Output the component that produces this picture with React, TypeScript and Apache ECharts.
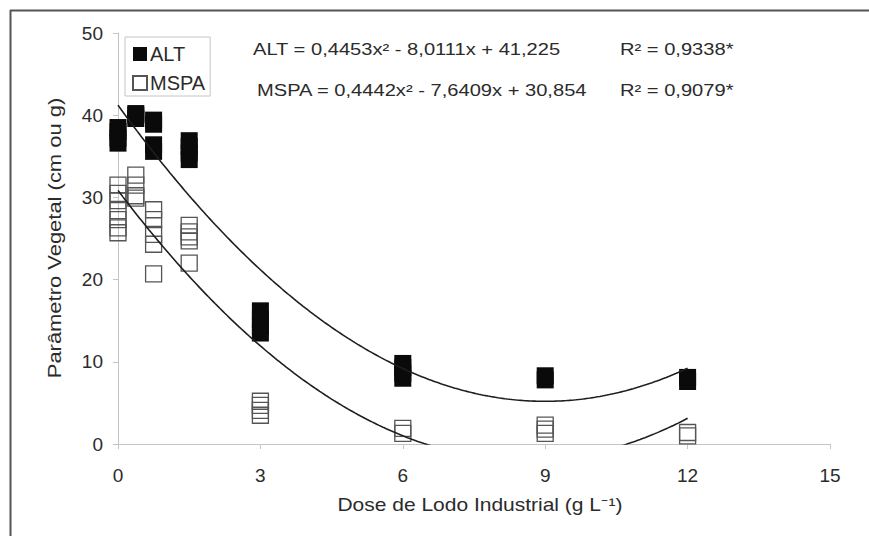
import React, { useEffect, useRef } from "react";
import * as echarts from "echarts";

// Dose (g L-1) and measured values, one entry per replicate
const altDose = [0, 0, 0, 0, 0.375, 0.375, 0.375, 0.75, 0.75, 0.75, 0.75, 1.5, 1.5, 1.5, 1.5, 3, 3, 3, 3, 6, 6, 6, 6, 9, 9, 12, 12];
const altValue = [36.6, 37.2, 38.0, 38.5, 39.6, 40.0, 40.2, 35.6, 36.4, 38.9, 39.4, 34.6, 35.4, 36.2, 36.9, 13.5, 14.3, 15.2, 16.2, 8.0, 8.6, 9.3, 9.8, 7.8, 8.3, 7.6, 8.1];

const mspaDose = [0, 0, 0, 0, 0, 0, 0, 0.375, 0.375, 0.375, 0.375, 0.75, 0.75, 0.75, 0.75, 0.75, 1.5, 1.5, 1.5, 1.5, 1.5, 3, 3, 3, 3, 6, 6, 9, 9, 9, 12, 12];
const mspaValue = [31.5, 30.5, 29.6, 28.4, 27.3, 26.3, 25.7, 32.7, 31.5, 30.2, 29.9, 28.5, 27.3, 25.5, 24.3, 20.7, 26.6, 25.8, 25.2, 24.7, 22.0, 3.5, 4.1, 4.7, 5.2, 1.3, 1.9, 1.3, 1.8, 2.3, 1.0, 1.4];

// Regression coefficients printed on the chart (c0 + c1 x + c2 x^2)
const altCoef = [41.225, -8.0111, 0.4453];
const mspaCoef = [30.854, -7.6409, 0.4442];
const trendDomain = [0, 12];

const seriesNames = ["ALT", "MSPA"];
const equationTexts = [
  "ALT = 0,4453x² - 8,0111x + 41,225",
  "MSPA = 0,4442x² - 7,6409x + 30,854",
];
const r2Texts = ["R² = 0,9338*", "R² = 0,9079*"];
const xTitle = "Dose de Lodo Industrial (g L⁻¹)";
const yTitle = "Parâmetro Vegetal (cm ou g)";

const FONT = "'Liberation Sans', Arial, Helvetica, sans-serif";
const TXT = "#2b2b2b";
const AX = "#c4c4c4";

function trendPoints(coef: number[]) {
  const pts: number[][] = [];
  const steps = 240;
  for (let i = 0; i <= steps; i++) {
    const x = trendDomain[0] + ((trendDomain[1] - trendDomain[0]) * i) / steps;
    pts.push([x, coef[0] + coef[1] * x + coef[2] * x * x]);
  }
  return pts;
}

function txt(text: string, x: number, y: number, size: number, sx: number, align = "left", rotation = 0) {
  return {
    type: "text",
    x,
    y,
    rotation,
    scaleX: sx,
    silent: true,
    style: {
      text,
      fontSize: size,
      fontFamily: FONT,
      fill: TXT,
      align,
      verticalAlign: "middle",
      textAlign: align,
      textVerticalAlign: "middle",
    },
  };
}

export default function App() {
  const ref = useRef<HTMLDivElement>(null);
  useEffect(() => {
    if (!ref.current) return;
    const chart = echarts.init(ref.current, undefined, { renderer: "svg" });
    chart.setOption({
      animation: false,
      backgroundColor: "#ffffff",
      grid: { left: 118, right: 39, top: 33, bottom: 92, containLabel: false },
      legend: {
        orient: "vertical",
        left: 125,
        top: 37,
        data: seriesNames.map((n) => ({ name: n, icon: "rect" })),
        itemWidth: 14,
        itemHeight: 14,
        itemGap: 9,
        padding: [7, 5, 3, 7],
        borderColor: "#c4c4c4",
        borderWidth: 1,
        selectedMode: false,
        textStyle: { fontSize: 20, fontFamily: FONT, color: TXT, padding: [0, 0, 0, -2] },
      },
      xAxis: {
        type: "value",
        min: 0,
        max: 15,
        interval: 3,
        axisLine: { show: true, onZero: false, lineStyle: { color: AX, width: 1 } },
        axisTick: { show: true, length: 5, lineStyle: { color: AX } },
        axisLabel: { fontSize: 19, fontFamily: FONT, color: TXT, margin: 22 },
        splitLine: { show: false },
      },
      yAxis: {
        type: "value",
        min: 0,
        max: 50,
        interval: 10,
        axisLine: { show: true, lineStyle: { color: AX, width: 1 } },
        axisTick: { show: true, length: 5, lineStyle: { color: AX } },
        axisLabel: { fontSize: 19, fontFamily: FONT, color: TXT, margin: 15 },
        splitLine: { show: false },
      },
      series: [
        {
          name: "ALT",
          type: "scatter",
          symbol: "rect",
          symbolSize: 17,
          itemStyle: { color: "#0a0a0a", borderColor: "#0a0a0a", borderWidth: 0, opacity: 1 },
          data: altDose.map((d, i) => [d, altValue[i]]),
          z: 3,
        },
        {
          name: "MSPA",
          type: "scatter",
          symbol: "rect",
          symbolSize: 16,
          itemStyle: { color: "rgba(255,255,255,0)", borderColor: "#555555", borderWidth: 1.3, opacity: 1 },
          data: mspaDose.map((d, i) => [d, mspaValue[i]]),
          z: 3,
        },
        {
          name: "ALT trend",
          type: "line",
          showSymbol: false,
          symbol: "none",
          clip: true,
          silent: true,
          lineStyle: { color: "#1e1e1e", width: 1.6 },
          data: trendPoints(altCoef),
          z: 4,
        },
        {
          name: "MSPA trend",
          type: "line",
          showSymbol: false,
          symbol: "none",
          clip: true,
          silent: true,
          lineStyle: { color: "#1e1e1e", width: 1.6 },
          data: trendPoints(mspaCoef),
          z: 4,
        },
      ],
      graphic: [
        { type: "line", silent: true, shape: { x1: 10, y1: 10.5, x2: 869, y2: 10.5 }, style: { stroke: "#555", lineWidth: 2 } },
        { type: "line", silent: true, shape: { x1: 10.5, y1: 10, x2: 10.5, y2: 536 }, style: { stroke: "#555", lineWidth: 2 } },
        txt(equationTexts[0], 253, 49.5, 16.5, 1.22),
        txt(r2Texts[0], 620, 49.5, 16.5, 1.22),
        txt(equationTexts[1], 257, 90, 16.5, 1.22),
        txt(r2Texts[1], 620, 90, 16.5, 1.22),
        txt(xTitle, 480, 505, 17.5, 1.2, "center"),
        txt(yTitle, 55, 238, 18, 1.22, "center", Math.PI / 2),
      ],
    });
    return () => chart.dispose();
  }, []);
  return (
    <div
      ref={ref}
      style={{ position: "fixed", left: 0, top: 0, width: 869, height: 536, background: "#fff" }}
    />
  );
}
